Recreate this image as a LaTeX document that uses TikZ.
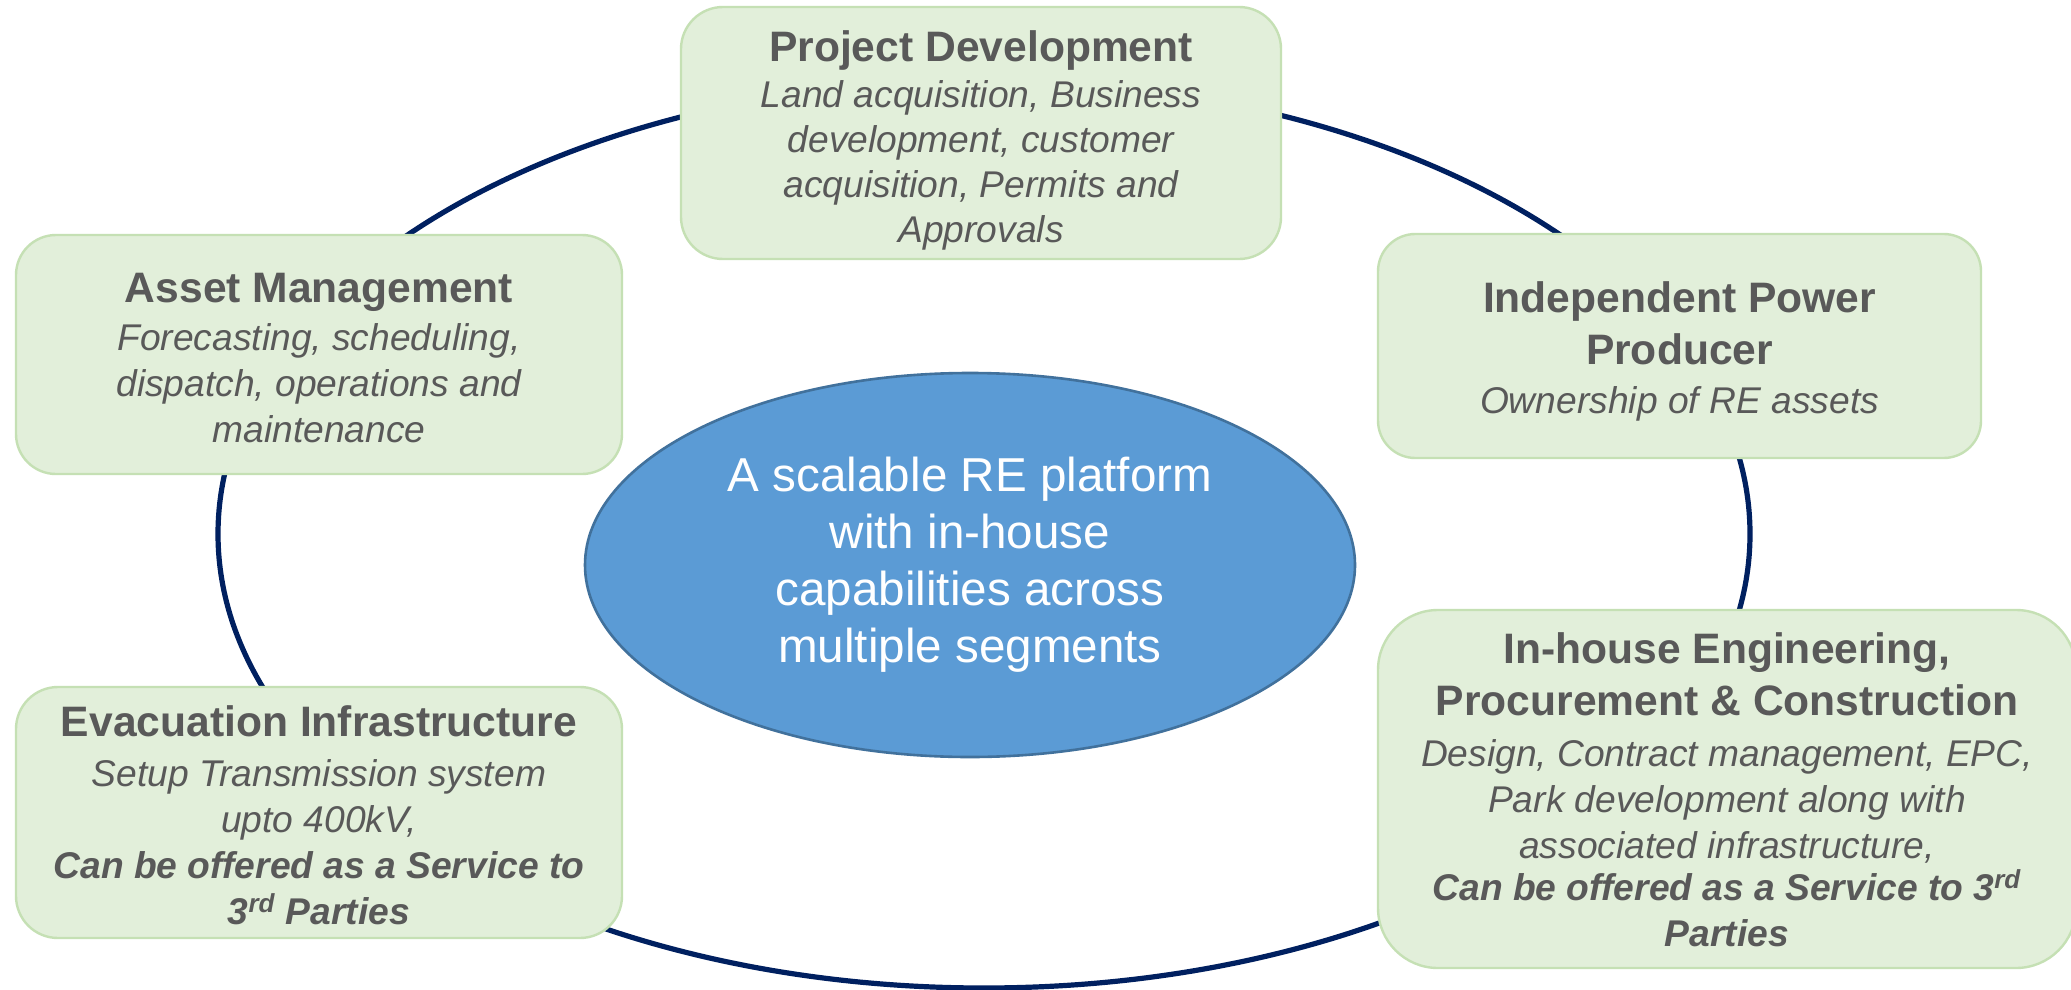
\documentclass[tikz,border=0pt]{standalone}
\usepackage{fontspec}
\setmainfont{Liberation Sans}
\usetikzlibrary{shapes.geometric}
\definecolor{ringblue}{HTML}{002060}
\definecolor{boxfill}{HTML}{E2EFDA}
\definecolor{boxline}{HTML}{C5E0B4}
\definecolor{txtgray}{HTML}{595959}
\definecolor{ellfill}{HTML}{5B9BD5}
\definecolor{ellline}{HTML}{41719C}
\newcommand{\ttl}[1]{{\fontsize{21.3}{23}\selectfont\bfseries #1}}
\newcommand{\bdy}[1]{{\itshape #1}}
\newcommand{\bbd}[1]{{\bfseries\itshape #1}}
\newcommand{\lift}[1]{\rule{0pt}{#1}}
\tikzset{
  gbox/.style={draw=boxline, line width=1.2pt, fill=boxfill, rounded corners=20pt,
    text=txtgray, align=center, inner sep=0pt, font=\fontsize{18.6}{23}\selectfont},
  ring/.style={draw=ringblue, line width=2.6pt},
  hub/.style={ellipse, draw=ellline, line width=1.3pt, fill=ellfill, text=white,
    align=center, inner sep=0pt, font=\fontsize{23.8}{28.5}\selectfont}
}
\begin{document}
\begin{tikzpicture}[x=0.5pt,y=-0.5pt]
\useasboundingbox (0,0) rectangle (2071,990);
\fill[white] (0,0) rectangle (2071,990);
\coordinate (rc) at (984,534);
\draw[ring] (rc) ellipse [x radius=383pt, y radius=227pt];
\node[hub, minimum width=385pt, minimum height=192pt] (hub) at (970,565)
  {A scalable RE platform\\with in-house\\capabilities across\\multiple segments};
\node[gbox, rounded corners=21pt, minimum width=300pt, minimum height=126pt] (pd) at (981,133)
  {\lift{22.6pt}\ttl{Project Development}\\[0pt]\bdy{Land acquisition, Business}\\[-0.5pt]\bdy{development, customer}\\[-0.5pt]\bdy{acquisition, Permits and}\\[-0.5pt]\bdy{Approvals}};
\node[gbox, minimum width=303pt, minimum height=119.5pt] (am) at (319,354.5)
  {\lift{18.3pt}\ttl{Asset Management}\\[0.9pt]\bdy{Forecasting, scheduling,}\\\bdy{dispatch, operations and}\\\bdy{maintenance}};
\node[gbox, rounded corners=18.7pt, minimum width=301.5pt, minimum height=112pt] (ipp) at (1679.5,346)
  {\lift{20.6pt}\ttl{Independent Power}\\[3pt]\ttl{Producer}\\[1.5pt]\bdy{Ownership of RE assets}};
\node[gbox, rounded corners=21pt, minimum width=303pt, minimum height=125.5pt] (ei) at (319,812.5)
  {\lift{18.6pt}\ttl{Evacuation Infrastructure}\\[2pt]\bdy{Setup Transmission system}\\\bdy{upto 400kV,}\\\bbd{Can be offered as a Service to}\\\bbd{3\textsuperscript{rd} Parties}};
\node[gbox, rounded corners=30pt, minimum width=349pt, minimum height=179pt] (epc) at (1727,789)
  {\lift{16.6pt}\ttl{In-house Engineering,}\\[3pt]\ttl{Procurement \& Construction}\\[2.5pt]\bdy{Design, Contract management, EPC,}\\\bdy{Park development along with}\\\bdy{associated infrastructure,}\\[-2pt]\bbd{Can be offered as a Service to 3\textsuperscript{rd}}\\\bbd{Parties}};
\end{tikzpicture}
\end{document}
